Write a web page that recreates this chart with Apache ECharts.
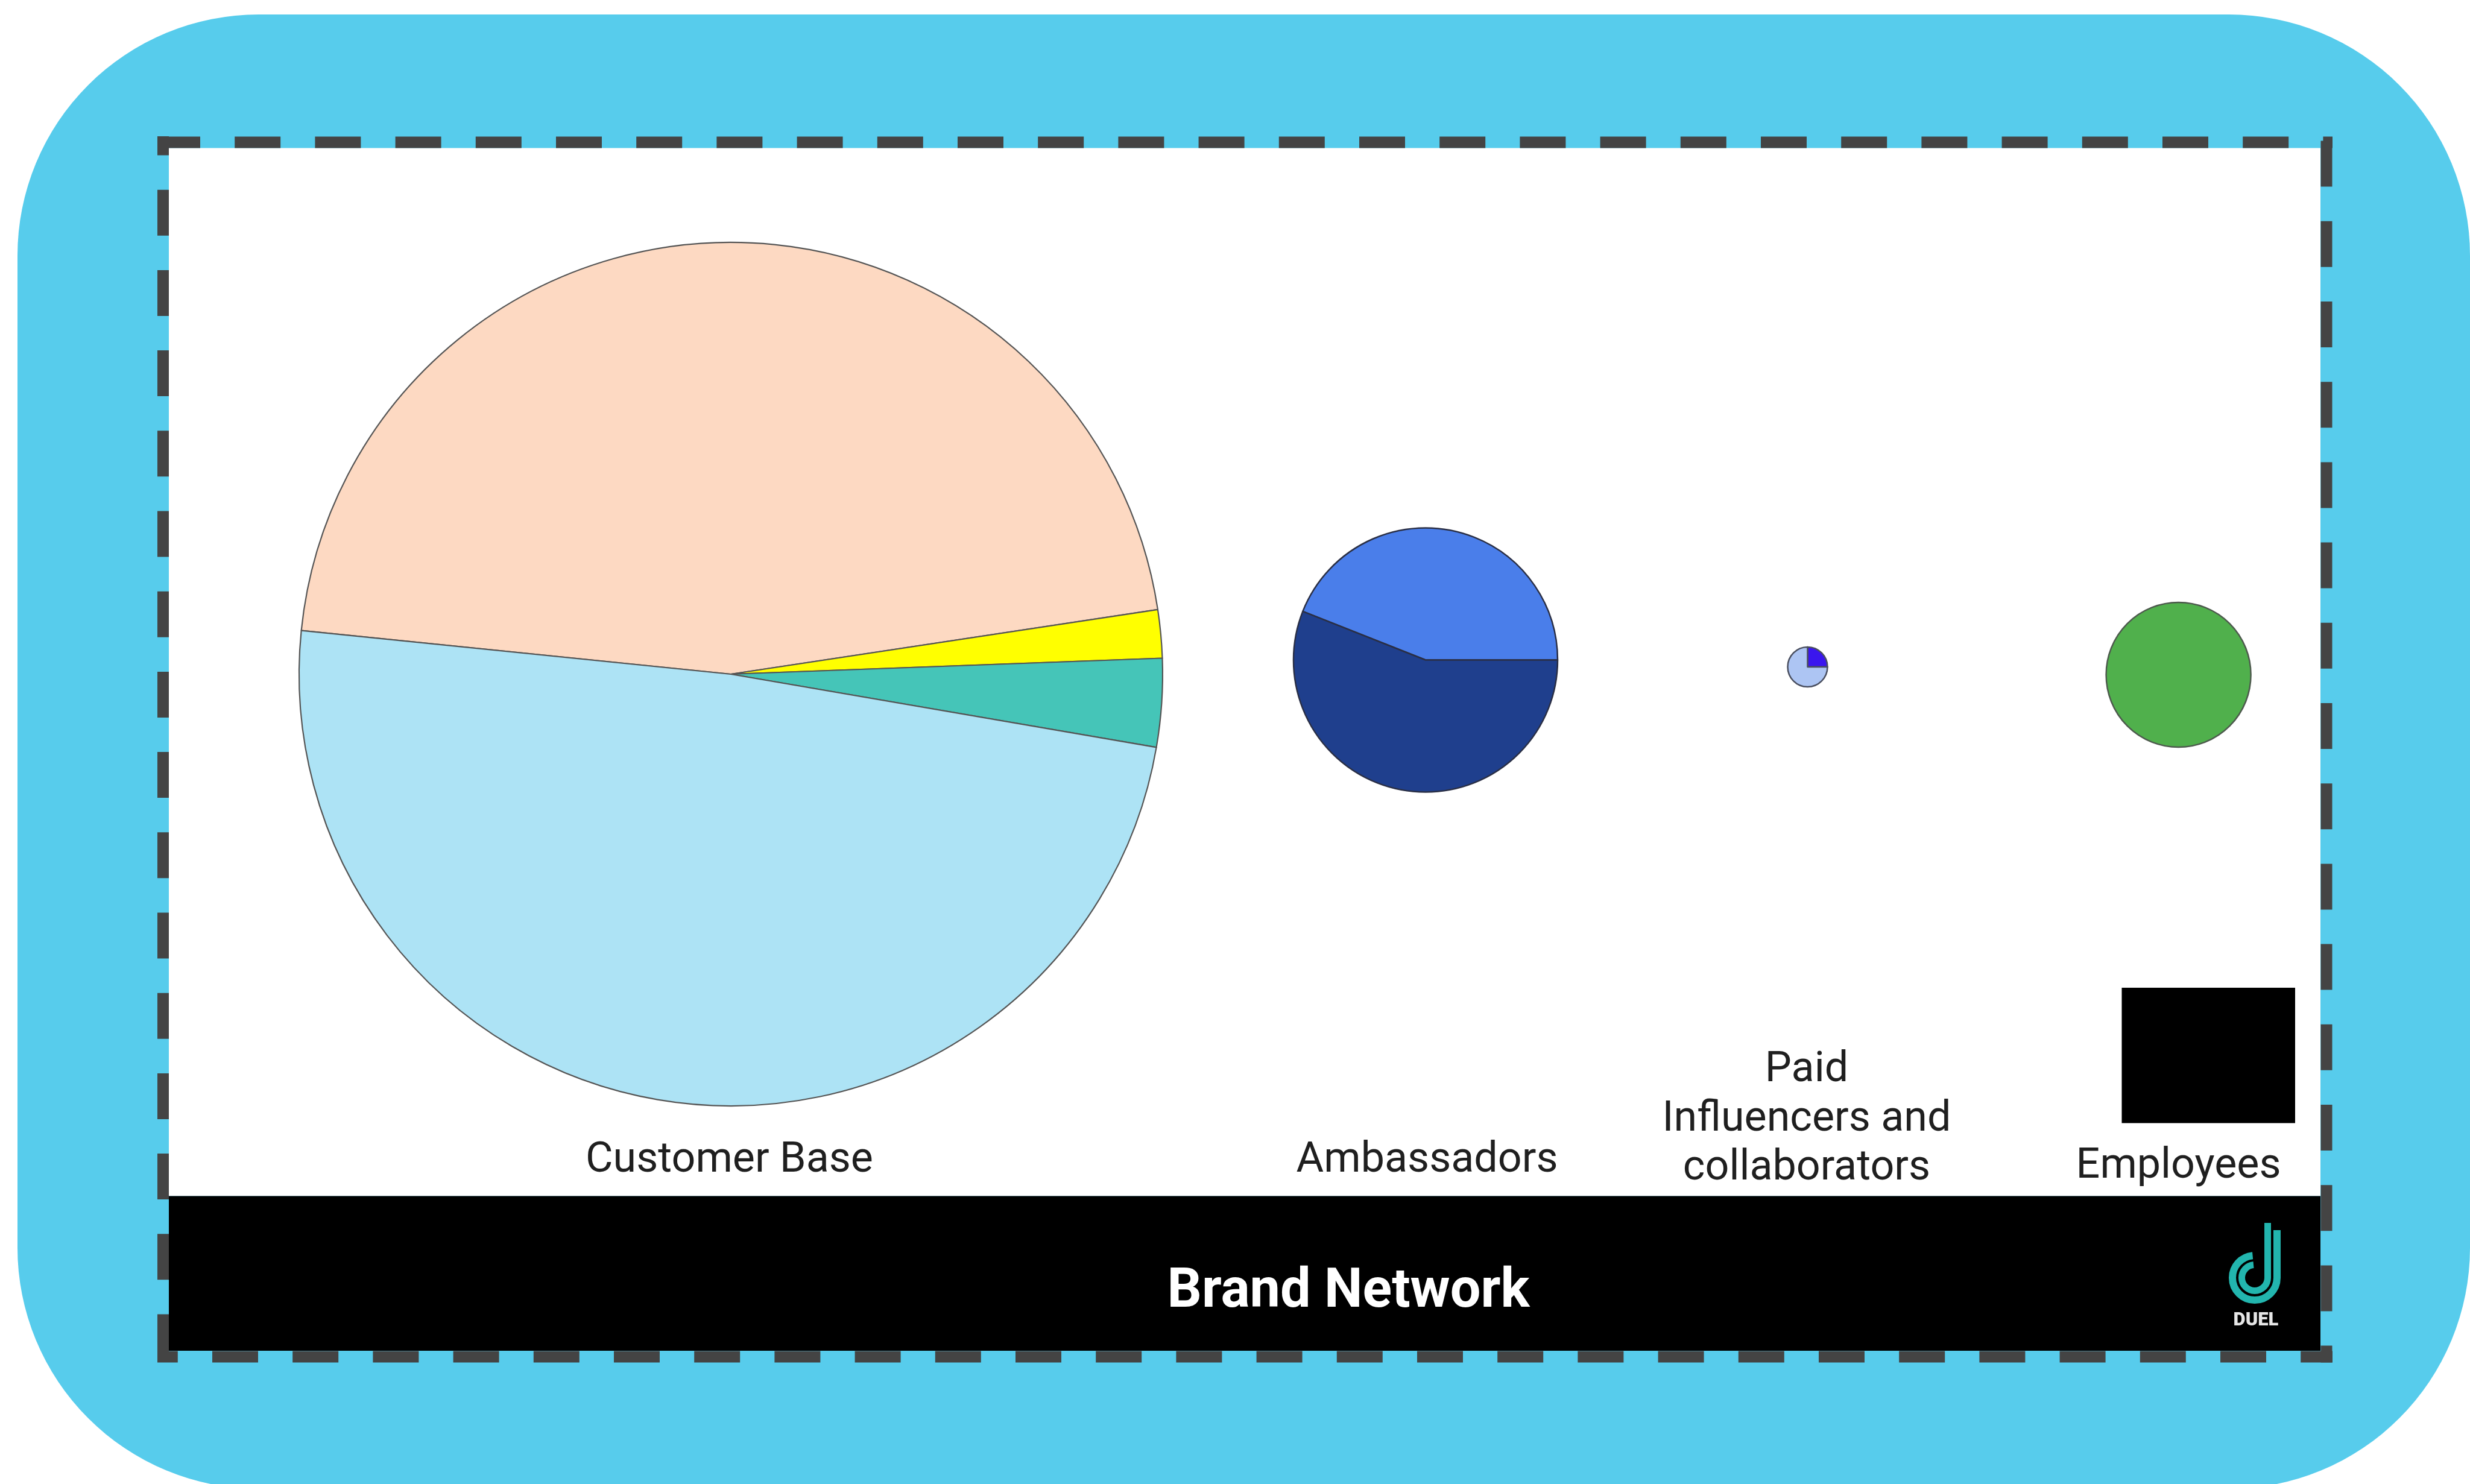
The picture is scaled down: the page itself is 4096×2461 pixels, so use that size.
<!DOCTYPE html>
<html>
<head>
<meta charset="utf-8">
<script src="https://cdn.jsdelivr.net/npm/echarts@6.0.0/dist/echarts.min.js"></script>
<style>
  html, body { margin: 0; padding: 0; background: #ffffff; }
  #chart { width: 4096px; height: 2461px; }
</style>
</head>
<body>
<div id="chart"></div>
<script>
// ---------------- DATA ----------------
const categories = ['Customer Base', 'Ambassadors', 'Paid\nInfluencers and\ncollaborators', 'Employees'];
const chartTitle = 'Brand Network';
const logoText = 'DUEL';
const customerBaseNames = ['Segment 1', 'Segment 2', 'Segment 3', 'Segment 4'];
const customerBaseShares = [46.0, 1.8, 3.3, 48.9];
const ambassadorNames = ['Segment 1', 'Segment 2'];
const ambassadorShares = [44, 56];
const paidInfluencerNames = ['Segment 1', 'Segment 2'];
const paidInfluencerShares = [25, 75];
const employeeNames = ['Employees'];
const employeeShares = [100];

// ---------------- LAYOUT / STYLE ----------------
const pieLayout = [
  { cx: 1212, cy: 1118, r: 716, start: 174.2, colors: ['#FDD9C2', '#FFFF00', '#45C5B8', '#ADE3F5'], border: '#555555', bw: 2.2 },
  { cx: 2364, cy: 1094.5, r: 219, start: 158.4, colors: ['#4A7EEA', '#1F3F8D'], border: '#2a2f45', bw: 2.5 },
  { cx: 2997.5, cy: 1106, r: 33, start: 90, colors: ['#3A16EE', '#ADC5F3'], border: '#4a4f60', bw: 2.5 },
  { cx: 3612.6, cy: 1119, r: 120, start: 90, colors: ['#50B04C'], border: '#4d5a4d', bw: 2.5 }
];
const labelPos = [
  { x: 1209.5, y: 1925 },
  { x: 2366.6, y: 1925 },
  { x: 2996, y: 1857 },
  { x: 3612.6, y: 1935 }
];

function toData(names, vals, colors) {
  return vals.map((v, i) => ({ name: names[i], value: v, itemStyle: { color: colors[i] } }));
}
const pieData = [
  toData(customerBaseNames, customerBaseShares, pieLayout[0].colors),
  toData(ambassadorNames, ambassadorShares, pieLayout[1].colors),
  toData(paidInfluencerNames, paidInfluencerShares, pieLayout[2].colors),
  toData(employeeNames, employeeShares, pieLayout[3].colors)
];

const series = pieData.map((d, i) => ({
  type: 'pie',
  name: categories[i],
  center: [pieLayout[i].cx, pieLayout[i].cy],
  radius: [0, pieLayout[i].r],
  startAngle: pieLayout[i].start,
  clockwise: true,
  silent: true,
  animation: false,
  avoidLabelOverlap: false,
  label: { show: false },
  labelLine: { show: false },
  emphasis: { disabled: true },
  itemStyle: { borderColor: pieLayout[i].border, borderWidth: pieLayout[i].bw },
  data: d,
  z: 5
}));

// dashed border helper
const DASH = [76, 57.2];
const PERIOD = DASH[0] + DASH[1];
function dashLine(x1, y1, x2, y2, startPos, dashStart) {
  let off = (startPos - dashStart) % PERIOD;
  if (off < 0) off += PERIOD;
  return {
    type: 'line', z: 3, silent: true,
    shape: { x1: x1, y1: y1, x2: x2, y2: y2 },
    style: { stroke: '#444444', lineWidth: 19, lineDash: DASH, lineDashOffset: off, lineCap: 'butt' }
  };
}

const labelFont = '400 70px Roboto, "Noto Sans", sans-serif';
const graphic = [
  // blue rounded card
  { type: 'rect', z: 0, silent: true, shape: { x: 29, y: 24, width: 4067, height: 2445, r: 400 }, style: { fill: '#57CCEC' } },
  // white content
  { type: 'rect', z: 1, silent: true, shape: { x: 280, y: 245.5, width: 3568, height: 1738 }, style: { fill: '#ffffff' } },
  // black footer
  { type: 'rect', z: 1, silent: true, shape: { x: 280, y: 1983.5, width: 3568, height: 256.5 }, style: { fill: '#000000' } },
  // dashed frame
  dashLine(261, 236, 3868, 236, 261, 256),
  dashLine(270.5, 226, 270.5, 2259.5, 226, 181.5),
  dashLine(3858, 226, 3858, 2259.5, 226, 233.6),
  dashLine(261, 2250, 3868, 2250, 261, 352),
  // black square
  { type: 'rect', z: 4, silent: true, shape: { x: 3518.5, y: 1638, width: 287.5, height: 224.5 }, style: { fill: '#000000' } },
  // title
  { type: 'text', z: 10, silent: true, style: { text: chartTitle, x: 2236, y: 2144, textAlign: 'center', textVerticalAlign: 'middle', fill: '#ffffff', font: '700 90px Roboto, "Noto Sans", sans-serif' } },
  // logo: double "d"
  { type: 'arc', z: 10, silent: true, shape: { cx: 3739, cy: 2119, r: 37, startAngle: 0, endAngle: 4.62, clockwise: true }, style: { stroke: '#22B5AE', lineWidth: 12, fill: null } },
  { type: 'arc', z: 10, silent: true, shape: { cx: 3739, cy: 2119, r: 21.5, startAngle: 0, endAngle: 4.62, clockwise: true }, style: { stroke: '#22B5AE', lineWidth: 11, fill: null } },
  { type: 'line', z: 10, silent: true, shape: { x1: 3776, y1: 2119.5, x2: 3776, y2: 2040 }, style: { stroke: '#22B5AE', lineWidth: 12 } },
  { type: 'line', z: 10, silent: true, shape: { x1: 3760.5, y1: 2119.5, x2: 3760.5, y2: 2028 }, style: { stroke: '#22B5AE', lineWidth: 11 } },
  { type: 'text', z: 10, silent: true, style: { text: logoText, x: 3741, y: 2190, textAlign: 'center', textVerticalAlign: 'middle', fill: '#e6e6e6', font: '900 31px Roboto, "Noto Sans", sans-serif' } }
];
// category labels
categories.forEach((c, i) => {
  graphic.push({
    type: 'text', z: 10, silent: true,
    style: { text: c, x: labelPos[i].x, y: labelPos[i].y, textAlign: 'center', textVerticalAlign: 'middle', fill: '#1f1f1f', font: labelFont, lineHeight: 81.5 }
  });
});

const chart = echarts.init(document.getElementById('chart'), null, { renderer: 'canvas' });
chart.setOption({
  backgroundColor: '#ffffff',
  animation: false,
  graphic: { elements: graphic },
  series: series
});
</script>
</body>
</html>
